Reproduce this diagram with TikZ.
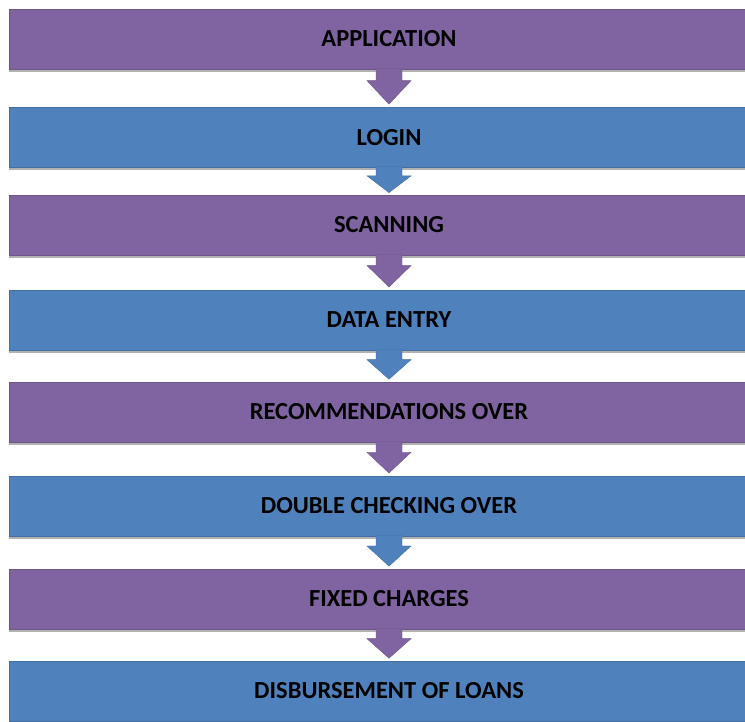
\documentclass[tikz,border=0pt]{standalone}
\usepackage{fontspec}
\setmainfont{Carlito}
\usetikzlibrary{calc,shadows}
\definecolor{stepviolet}{HTML}{8064A2}
\definecolor{stepblue}{HTML}{4F81BD}
\tikzset{
  stagebox/.style={rectangle, minimum width=760pt, minimum height=60pt, inner sep=0pt,
    text=black, font=\fontsize{24.5}{28}\selectfont\bfseries,
    draw=#1!85!black, line width=0.5pt, fill=#1,
    drop shadow={shadow xshift=0pt, shadow yshift=-3pt, opacity=0.3, fill=black}},
  flowarrow/.style={fill=#1, draw=#1!85!black, line width=0.4pt}
}
\newcommand{\stagearrow}[3]{%
  \path[flowarrow=#1] let \p1=(#2.south), \p2=(#3.north), \n1={\y1-\y2} in
    (\x1-13pt,\y1+1pt) -- (\x1-13pt,\y1-0.3*\n1*1pt) -- (\x1-22pt,\y1-0.3*\n1*1pt)
    -- (\x1,\y2+0.08*\n1*1pt) -- (\x1+22pt,\y1-0.3*\n1*1pt) -- (\x1+13pt,\y1-0.3*\n1*1pt)
    -- (\x1+13pt,\y1+1pt) -- cycle;}
\begin{document}
\begin{tikzpicture}[x=1pt,y=1pt]
\useasboundingbox (0,0) rectangle (745,722);
\clip (0,0) rectangle (745,722);
\fill[white] (0,0) rectangle (745,722);
\node[stagebox=stepviolet] (b1) at (389,{722-39}) {APPLICATION};
\node[stagebox=stepblue]   (b2) at (389,{722-137.5}) {LOGIN};
\node[stagebox=stepviolet] (b3) at (389,{722-225}) {SCANNING};
\node[stagebox=stepblue]   (b4) at (389,{722-320}) {DATA ENTRY};
\node[stagebox=stepviolet] (b5) at (389,{722-412}) {RECOMMENDATIONS OVER};
\node[stagebox=stepblue]   (b6) at (389,{722-506}) {DOUBLE CHECKING OVER};
\node[stagebox=stepviolet] (b7) at (389,{722-599}) {FIXED CHARGES};
\node[stagebox=stepblue]   (b8) at (389,{722-691}) {DISBURSEMENT OF LOANS};
\stagearrow{stepviolet}{b1}{b2}
\stagearrow{stepblue}{b2}{b3}
\stagearrow{stepviolet}{b3}{b4}
\stagearrow{stepblue}{b4}{b5}
\stagearrow{stepviolet}{b5}{b6}
\stagearrow{stepblue}{b6}{b7}
\stagearrow{stepviolet}{b7}{b8}
\end{tikzpicture}
\end{document}
